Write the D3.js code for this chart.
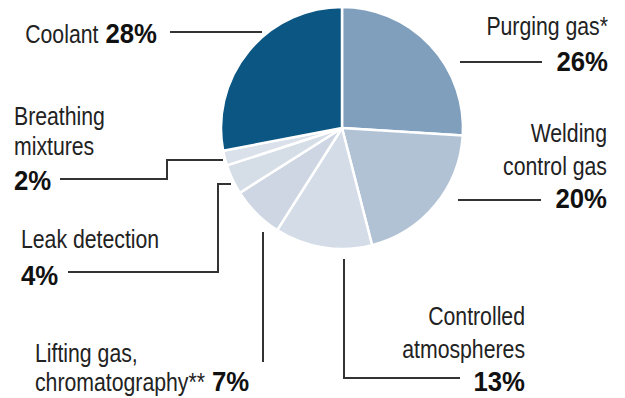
<!DOCTYPE html>
<html>
<head>
<meta charset="utf-8">
<script src="https://cdn.jsdelivr.net/npm/d3@7/dist/d3.min.js"></script>
<style>
  html, body { margin: 0; padding: 0; background: #fff; }
  svg { display: block; }
  .lbl { font-family: "Liberation Sans", Arial, sans-serif; font-size: 25px; fill: #222; }
  .pct { font-family: "Liberation Sans", Arial, sans-serif; font-weight: bold; font-size: 28px; fill: #111; }
</style>
</head>
<body>
<script>
// ---- data ----
const categories = ["Purging gas*", "Welding control gas", "Controlled atmospheres",
  "Lifting gas, chromatography**", "Leak detection", "Breathing mixtures", "Coolant"];
const values = [26, 20, 13, 7, 4, 2, 28];
const labelLines = [
  ["Purging gas*"],
  ["Welding", "control gas"],
  ["Controlled", "atmospheres"],
  ["Lifting gas,", "chromatography**"],
  ["Leak detection"],
  ["Breathing", "mixtures"],
  ["Coolant"]
];
const colors = ["#7f9fbd", "#b2c2d5", "#d3dce7", "#cdd6e2", "#d5dde7", "#dae1ea", "#0c5683"];

// ---- layout ----
const W = 625, H = 398;
const cx = 342, cy = 128, R = 121;
const SX_REG = 0.85, SX_BOLD = 0.92, GAP = 7;
const layout = [
  { x: 608, anchor: "end", ys: [35, 71], inline: false, leader: [[460, 62], [542, 62]] },
  { x: 607, anchor: "end", ys: [142, 175, 208], inline: false, leader: [[458, 200], [541, 200]] },
  { x: 525, anchor: "end", ys: [325, 358, 391], inline: false, leader: [[344, 259], [344, 378], [460, 378]] },
  { x: 35, anchor: "start", ys: [362, 391], inline: true, leader: [[263, 232], [263, 362]] },
  { x: 21, anchor: "start", ys: [248, 285], inline: false, leader: [[68, 272], [218, 272], [218, 184], [231, 184]] },
  { x: 14, anchor: "start", ys: [125, 155, 190], inline: false, leader: [[60, 179], [167, 179], [167, 160], [223, 160]] },
  { x: 157, anchor: "end", ys: [43], inline: true, leader: [[170, 32], [262, 32]] }
];

const svg = d3.select("body").append("svg").attr("width", W).attr("height", H);
svg.append("rect").attr("width", W).attr("height", H).attr("fill", "#fff");

const pie = d3.pie().sort(null).value(d => d)(values);
const arc = d3.arc().innerRadius(0).outerRadius(R);
const color = d3.scaleOrdinal().domain(categories).range(colors);

svg.append("g").attr("transform", `translate(${cx},${cy})`)
  .selectAll("path").data(pie).join("path")
  .attr("d", arc)
  .attr("fill", (d, i) => color(categories[i]))
  .attr("stroke", "#fff").attr("stroke-width", 2.5).attr("stroke-linejoin", "round");

const line = d3.line();
svg.append("g").selectAll("path").data(layout).join("path")
  .attr("d", d => line(d.leader))
  .attr("fill", "none").attr("stroke", "#333").attr("stroke-width", 2);

const labels = svg.append("g");
function addText(cls, str, x, y, anchor, sx) {
  const g = labels.append("g").attr("transform", `translate(${x},${y}) scale(${sx},1)`);
  const t = g.append("text").attr("class", cls).attr("text-anchor", anchor).text(str);
  return t.node().getComputedTextLength() * sx;
}
function measure(cls, str, sx) {
  const t = labels.append("text").attr("class", cls).text(str);
  const w = t.node().getComputedTextLength() * sx;
  t.remove();
  return w;
}

categories.forEach((c, i) => {
  const L = layout[i];
  const lines = labelLines[i];
  const pctText = values[i] + "%";
  lines.forEach((ln, j) => {
    const last = j === lines.length - 1;
    if (L.inline && last) {
      if (L.anchor === "end") {
        const pw = measure("pct", pctText, SX_BOLD);
        addText("pct", pctText, L.x, L.ys[j], "end", SX_BOLD);
        addText("lbl", ln, L.x - pw - GAP, L.ys[j], "end", SX_REG);
      } else {
        const nw = addText("lbl", ln, L.x, L.ys[j], "start", SX_REG);
        addText("pct", pctText, L.x + nw + GAP, L.ys[j], "start", SX_BOLD);
      }
    } else {
      addText("lbl", ln, L.x, L.ys[j], L.anchor, SX_REG);
    }
  });
  if (!L.inline) {
    addText("pct", pctText, L.x, L.ys[lines.length], L.anchor, SX_BOLD);
  }
});
</script>
</body>
</html>
